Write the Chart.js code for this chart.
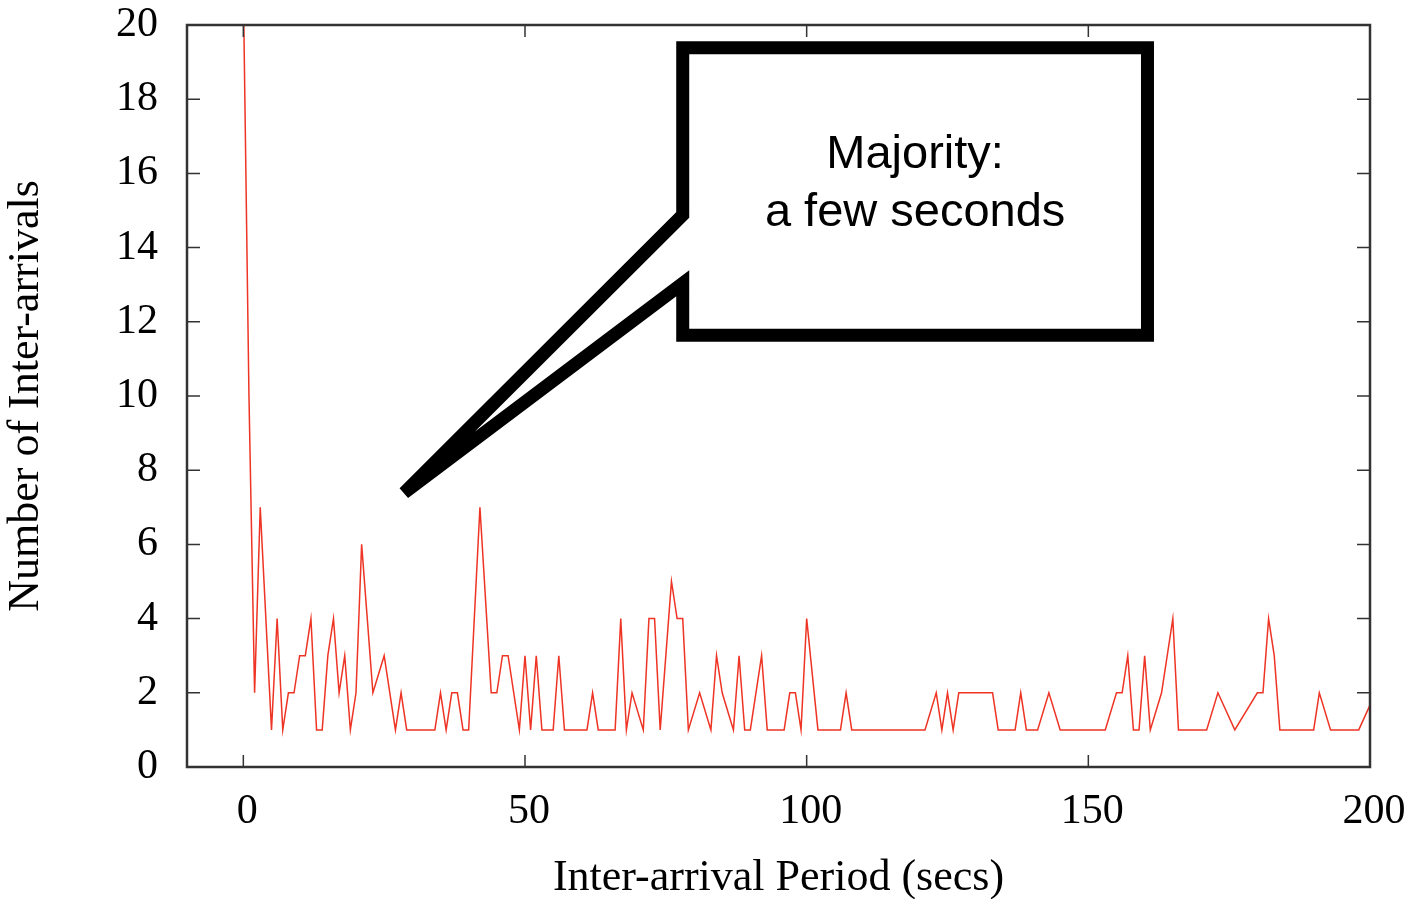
<!DOCTYPE html>
<html>
<head>
<meta charset="utf-8">
<script src="https://cdn.jsdelivr.net/npm/chart.js@4.4.1/dist/chart.umd.min.js"></script>
<style>
  html, body { margin: 0; padding: 0; background: #fff; }
  #wrap { width: 1413px; height: 899px; }
</style>
</head>
<body>
<div id="wrap"><canvas id="myChart"></canvas></div>
<script>
// inter-arrival period (secs), only the non-empty bins
const periods = [0, 1, 2, 3, 5, 6, 7, 8, 9, 10, 11, 12, 13, 14, 15, 16, 17, 18, 19, 20,
  21, 23, 25, 27, 28, 29, 34, 35, 36, 37, 38, 39, 40, 42, 44, 45, 46, 47, 49, 50,
  51, 52, 53, 55, 56, 57, 61, 62, 63, 66, 67, 68, 69, 71, 72, 73, 74, 76, 77, 78,
  79, 81, 83, 84, 85, 87, 88, 89, 90, 92, 93, 96, 97, 98, 99, 100, 102, 106, 107, 108,
  121, 123, 124, 125, 126, 127, 133, 134, 137, 138, 139, 141, 143, 145, 153, 155, 156, 157, 158, 159,
  160, 161, 163, 165, 166, 171, 173, 176, 180, 181, 182, 183, 184, 190, 191, 193, 198, 201];
const counts = [21, 10, 2, 7, 1, 4, 1, 2, 2, 3, 3, 4, 1, 1, 3, 4, 2, 3, 1, 2,
  6, 2, 3, 1, 2, 1, 1, 2, 1, 2, 2, 1, 1, 7, 2, 2, 3, 3, 1, 3,
  1, 3, 1, 1, 3, 1, 1, 2, 1, 1, 4, 1, 2, 1, 4, 4, 1, 5, 4, 4,
  1, 2, 1, 3, 2, 1, 3, 1, 1, 3, 1, 1, 2, 2, 1, 4, 1, 1, 2, 1,
  1, 2, 1, 2, 1, 2, 2, 1, 1, 2, 1, 1, 2, 1, 1, 2, 2, 3, 1, 1,
  3, 1, 2, 4, 1, 1, 2, 1, 2, 2, 4, 3, 1, 1, 2, 1, 1, 2];

const xTicks = [0, 50, 100, 150, 200];
const yTicks = [0, 2, 4, 6, 8, 10, 12, 14, 16, 18, 20];

const calloutLines = ["Majority:", "a few seconds"];

const serif = "'Liberation Serif', 'Times New Roman', serif";

// gnuplot style border with inward ticks on all four sides
const framePlugin = {
  id: 'frame',
  afterDatasetsDraw(chart) {
    const { ctx, chartArea: a, scales: { x, y } } = chart;
    ctx.save();
    ctx.strokeStyle = '#333';
    ctx.lineWidth = 1.5;
    ctx.beginPath();
    yTicks.forEach(v => {
      const p = y.getPixelForValue(v);
      ctx.moveTo(a.left, p); ctx.lineTo(a.left + 13, p);
      ctx.moveTo(a.right, p); ctx.lineTo(a.right - 13, p);
    });
    xTicks.forEach(v => {
      const p = x.getPixelForValue(v);
      ctx.moveTo(p, a.bottom); ctx.lineTo(p, a.bottom - 12);
      ctx.moveTo(p, a.top); ctx.lineTo(p, a.top + 12);
    });
    ctx.stroke();
    ctx.lineWidth = 2.5;
    ctx.strokeRect(a.left, a.top, a.right - a.left, a.bottom - a.top);
    ctx.restore();
  }
};

// speech-bubble annotation
const calloutPlugin = {
  id: 'callout',
  afterDraw(chart) {
    const { ctx, scales: { x, y } } = chart;
    const L = x.getPixelForValue(78.0), R = x.getPixelForValue(160.5);
    const T = y.getPixelForValue(19.39), B = y.getPixelForValue(11.64);
    const n1 = y.getPixelForValue(14.88), n2 = y.getPixelForValue(13.04);
    const tx = x.getPixelForValue(28.55), ty = y.getPixelForValue(7.39);
    ctx.save();
    ctx.beginPath();
    ctx.moveTo(L, n1);
    ctx.lineTo(L, T);
    ctx.lineTo(R, T);
    ctx.lineTo(R, B);
    ctx.lineTo(L, B);
    ctx.lineTo(L, n2);
    ctx.lineTo(tx, ty);
    ctx.closePath();
    ctx.fillStyle = '#fff';
    ctx.fill();
    ctx.lineWidth = 13;
    ctx.lineJoin = 'miter';
    ctx.strokeStyle = '#000';
    ctx.stroke();
    ctx.fillStyle = '#000';
    ctx.font = "47px 'Liberation Sans', Arial, sans-serif";
    ctx.textAlign = 'center';
    ctx.textBaseline = 'alphabetic';
    const cx = (L + R) / 2;
    ctx.fillText(calloutLines[0], cx, T + 120);
    ctx.fillText(calloutLines[1], cx, T + 178);
    ctx.restore();
  }
};

const ctx = document.getElementById("myChart").getContext("2d");

const data = {
  datasets: [
    {
      data: periods.map((p, i) => ({ x: p, y: counts[i] })),
      borderColor: 'rgb(238, 52, 36)',
      borderWidth: 1.5,
      pointRadius: 0,
      fill: false,
      tension: 0,
    },
  ],
};

const config = {
  type: "line",
  data: data,
  options: {
    responsive: true,
    maintainAspectRatio: false,
    animation: false,
    layout: { padding: { top: 25, right: 43, left: 0, bottom: 0 } },
    plugins: {
      legend: { display: false },
      tooltip: { enabled: false },
    },
    scales: {
      x: {
        type: 'linear',
        min: -10,
        max: 200,
        grid: { display: false, drawTicks: false },
        border: { display: false },
        afterBuildTicks: (scale) => {
          scale.ticks = xTicks.map(v => ({ value: v }));
        },
        afterFit: (scale) => {
          scale.height = 132;
          scale.paddingLeft = 0;
          scale.paddingRight = 0;
        },
        ticks: {
          color: '#000',
          font: { family: serif, size: 42 },
          padding: 20,
          labelOffset: 4,
          maxRotation: 0,
          autoSkip: false,
        },
        title: {
          display: true,
          text: 'Inter-arrival Period (secs)',
          color: '#000',
          font: { family: serif, size: 44, lineHeight: 0.95 },
          padding: 0,
        },
      },
      y: {
        min: 0,
        max: 20,
        grid: { display: false, drawTicks: false },
        border: { display: false },
        afterFit: (scale) => {
          scale.width = 187;
          scale.paddingTop = 0;
          scale.paddingBottom = 0;
        },
        ticks: {
          stepSize: 2,
          color: '#000',
          font: { family: serif, size: 42 },
          padding: 29,
        },
        title: {
          display: true,
          text: 'Number of Inter-arrivals',
          color: '#000',
          font: { family: serif, size: 44 },
          padding: 0,
        },
      },
    },
  },
  plugins: [framePlugin, calloutPlugin],
};

const myChart = new Chart(ctx, config);
</script>
</body>
</html>
